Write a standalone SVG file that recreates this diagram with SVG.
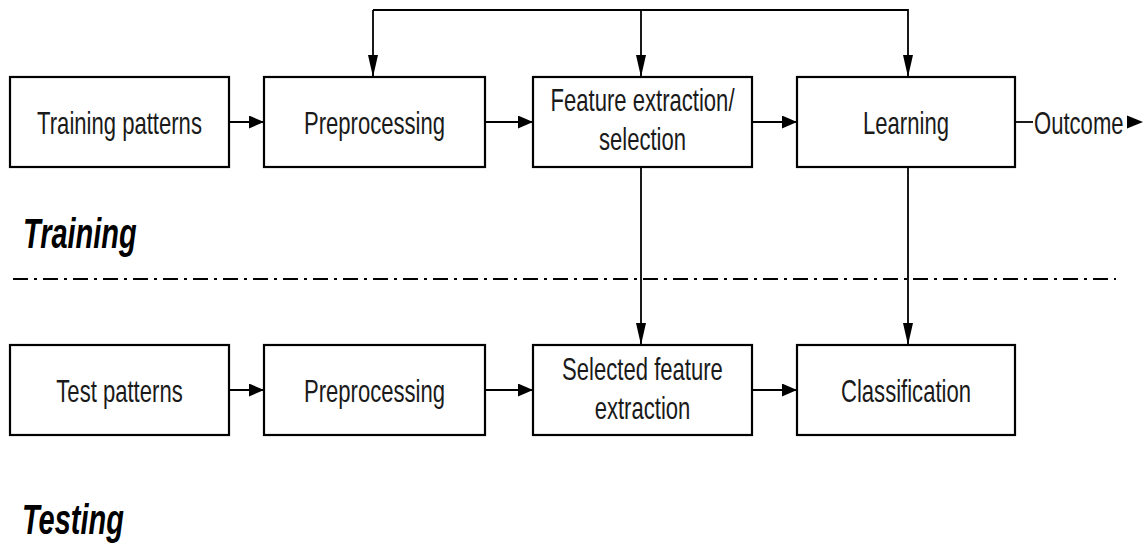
<svg xmlns="http://www.w3.org/2000/svg" width="1145" height="548" viewBox="0 0 1145 548">
<style>
.box{fill:#fff;stroke:#000;stroke-width:2.2}
.lbl{font-family:"Liberation Sans",Arial,sans-serif;font-size:32px;fill:#1a1a1a;text-anchor:middle}
.big{font-family:"Liberation Sans",Arial,sans-serif;font-size:42px;font-weight:bold;font-style:italic;fill:#000}
.ln{fill:none;stroke:#000;stroke-width:1.8}
.dash{fill:none;stroke:#000;stroke-width:2;stroke-dasharray:15 6 3 6}
</style>
<defs>
<marker id="ah" viewBox="0 0 15 13" refX="15" refY="6.5" markerWidth="15" markerHeight="13" markerUnits="userSpaceOnUse" orient="auto">
<path d="M0,0 L15,6.5 L0,13 Z" fill="#000"/>
</marker>
<marker id="av" viewBox="0 0 22 10" refX="22" refY="5" markerWidth="22" markerHeight="10" markerUnits="userSpaceOnUse" orient="auto">
<path d="M0,0 L22,5 L0,10 Z" fill="#000"/>
</marker>
</defs>
<g id="connectors">
<polyline class="ln" points="373,10 908,10 908,77" marker-end="url(#av)"/>
<line class="ln" x1="373" y1="10" x2="373" y2="77" marker-end="url(#av)"/>
<line class="ln" x1="641" y1="10" x2="641" y2="77" marker-end="url(#av)"/>
<line class="ln" x1="229" y1="122" x2="264" y2="122" marker-end="url(#ah)"/>
<line class="ln" x1="485" y1="122" x2="533" y2="122" marker-end="url(#ah)"/>
<line class="ln" x1="752" y1="122" x2="797" y2="122" marker-end="url(#ah)"/>
<line class="ln" x1="1015" y1="122" x2="1033" y2="122"/>
<path d="M1127,115.5 L1143,122 L1127,128.5 Z" fill="#000"/>
<line class="ln" x1="641" y1="167" x2="641" y2="345" marker-end="url(#av)"/>
<line class="ln" x1="908" y1="167" x2="908" y2="345" marker-end="url(#av)"/>
<line class="ln" x1="229" y1="390" x2="264" y2="390" marker-end="url(#ah)"/>
<line class="ln" x1="485" y1="390" x2="533" y2="390" marker-end="url(#ah)"/>
<line class="ln" x1="752" y1="390" x2="797" y2="390" marker-end="url(#ah)"/>
<line class="dash" x1="13" y1="279" x2="1116" y2="279"/>
</g>
<g id="outcome"><text class="lbl" style="text-anchor:start" transform="translate(1034,133.5) scale(0.69,1)">Outcome</text></g>
<g id="train-patterns"><rect class="box" x="10" y="77" width="219" height="90"/><text class="lbl" transform="translate(119.5,133.5) scale(0.69,1)">Training patterns</text></g>
<g id="train-pre"><rect class="box" x="264" y="77" width="221" height="90"/><text class="lbl" transform="translate(374.5,133.5) scale(0.69,1)">Preprocessing</text></g>
<g id="train-feat"><rect class="box" x="533" y="77" width="219" height="90"/><text class="lbl" transform="translate(642.5,111) scale(0.69,1)">Feature extraction/</text><text class="lbl" transform="translate(642.5,150) scale(0.69,1)">selection</text></g>
<g id="learning"><rect class="box" x="797" y="77" width="218" height="90"/><text class="lbl" transform="translate(906,133.5) scale(0.69,1)">Learning</text></g>
<g id="test-patterns"><rect class="box" x="10" y="345" width="219" height="90"/><text class="lbl" transform="translate(119.5,401.5) scale(0.69,1)">Test patterns</text></g>
<g id="test-pre"><rect class="box" x="264" y="345" width="221" height="90"/><text class="lbl" transform="translate(374.5,401.5) scale(0.69,1)">Preprocessing</text></g>
<g id="test-feat"><rect class="box" x="533" y="345" width="219" height="90"/><text class="lbl" transform="translate(642.5,380) scale(0.69,1)">Selected feature</text><text class="lbl" transform="translate(642.5,419) scale(0.69,1)">extraction</text></g>
<g id="classification"><rect class="box" x="797" y="345" width="218" height="90"/><text class="lbl" transform="translate(906,401.5) scale(0.69,1)">Classification</text></g>
<g id="label-training"><text class="big" transform="translate(23,248) scale(0.69,1)">Training</text></g>
<g id="label-testing"><text class="big" transform="translate(22,534) scale(0.69,1)">Testing</text></g>
</svg>
